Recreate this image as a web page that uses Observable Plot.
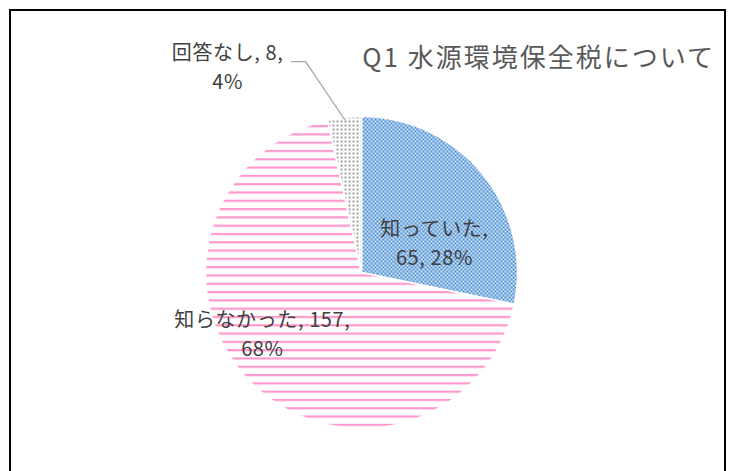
<!DOCTYPE html>
<html><head><meta charset="utf-8">
<script src="https://cdn.jsdelivr.net/npm/d3@7"></script>
<script src="https://cdn.jsdelivr.net/npm/@observablehq/plot@0.6"></script>
<style>
body{margin:0;background:#fff;}
#wrap{position:relative;width:729px;height:471px;overflow:hidden;font-family:"Noto Sans CJK JP",sans-serif;}
#border{position:absolute;left:9px;top:9px;width:717px;height:540px;border:2px solid #000;box-sizing:border-box;pointer-events:none;}
#title{position:absolute;right:14px;top:43px;font-size:26px;letter-spacing:2px;color:#595959;white-space:nowrap;line-height:1;}
</style>
</head><body>
<div id="wrap"><div id="title"></div><div id="border"></div></div>
<script>
// ---- data ----
const categories = ["知っていた", "知らなかった", "回答なし"];
const counts = [65, 157, 8];
const percents = ["28%", "68%", "4%"];
const titleText = "Q1 水源環境保全税について";

// ---- layout (not data) ----
const fills = ["url(#pBlue)", "url(#pPink)", "url(#pGray)"];
// label placement: [radius factor, angle deg clockwise from 12 o'clock]
const labelPolar = [[0.508, 67], [0.743, 238.8], [1.58, 327.1]];
const labelBreak = [1, 2, 2]; // number of items on first line
const font = "Noto Sans CJK JP";

document.getElementById("title").textContent = titleText;

const rows = categories.map((c, i) => ({cat: c, count: counts[i], pct: percents[i], i}));
const arcs = d3.pie().value(d => d.count).sort(null)(rows);

const polys = [];
arcs.forEach(a => {
  const id = a.data.i;
  polys.push({id, x: 0, y: 0});
  const n = Math.max(2, Math.ceil((a.endAngle - a.startAngle) / (Math.PI / 360)));
  for (let k = 0; k <= n; k++) {
    const t = a.startAngle + (a.endAngle - a.startAngle) * k / n;
    polys.push({id, x: Math.sin(t), y: Math.cos(t)});
  }
  polys.push({id, x: 0, y: 0});
});

const labels = rows.map((d, i) => {
  const [r, deg] = labelPolar[i];
  const t = deg * Math.PI / 180;
  const parts = [d.cat, String(d.count), d.pct];
  const b = labelBreak[i];
  const text = parts.slice(0, b).join(", ") + ",\n" + parts.slice(b).join(", ");
  return {x: r * Math.sin(t), y: r * Math.cos(t), text};
});

// leader line for the small slice
const small = arcs[2];
const mid = (small.startAngle + small.endAngle) / 2;
const lab = labels[2];
const leader = [
  {x: 0.985 * Math.sin(mid), y: 0.985 * Math.cos(mid)},
  {x: lab.x + 0.5, y: lab.y + 0.025},
  {x: lab.x + 0.41, y: lab.y + 0.025}
];

const marks = arcs.map((a, j) => Plot.line(polys.filter(p => p.id === j), {
  x: "x", y: "y", fill: fills[j], stroke: "white", strokeWidth: 1.5, curve: "linear"
}));
marks.push(Plot.line(leader, {x: "x", y: "y", stroke: "#a6a6a6", strokeWidth: 1.3}));
marks.push(Plot.text(labels, {
  x: "x", y: "y", text: "text", fontSize: 20, fill: "#404040", fontFamily: font,
  textAnchor: "middle", lineAnchor: "middle", lineHeight: 1.45
}));

const plot = Plot.plot({
  width: 729, height: 471,
  marginLeft: 205, marginRight: 212, marginTop: 116, marginBottom: 43,
  x: {domain: [-1, 1], axis: null},
  y: {domain: [-1, 1], axis: null},
  style: {background: "transparent", fontFamily: font, overflow: "visible", letterSpacing: "0.6px"},
  marks
});

const ns = "http://www.w3.org/2000/svg";
const defs = document.createElementNS(ns, "defs");
defs.innerHTML = `
<pattern id="pBlue" patternUnits="userSpaceOnUse" width="4" height="4">
  <rect width="4" height="4" fill="#d6e6f6"/>
  <rect x="0" y="0" width="2" height="2" fill="#4a8fd4"/>
  <rect x="2" y="2" width="2" height="2" fill="#4a8fd4"/>
</pattern>
<pattern id="pPink" patternUnits="userSpaceOnUse" width="8" height="8.3">
  <rect width="8" height="8.3" fill="#ffffff"/>
  <rect x="0" y="0" width="8" height="2.2" fill="#ff99cc"/>
</pattern>
<pattern id="pGray" patternUnits="userSpaceOnUse" width="4" height="4">
  <rect width="4" height="4" fill="#ffffff"/>
  <rect x="0" y="0" width="2" height="2" fill="#a0a0a0"/>
</pattern>`;
plot.insertBefore(defs, plot.firstChild);
plot.style.position = "absolute";
plot.style.left = "0";
plot.style.top = "0";
document.getElementById("wrap").insertBefore(plot, document.getElementById("title"));
</script>
</body></html>
